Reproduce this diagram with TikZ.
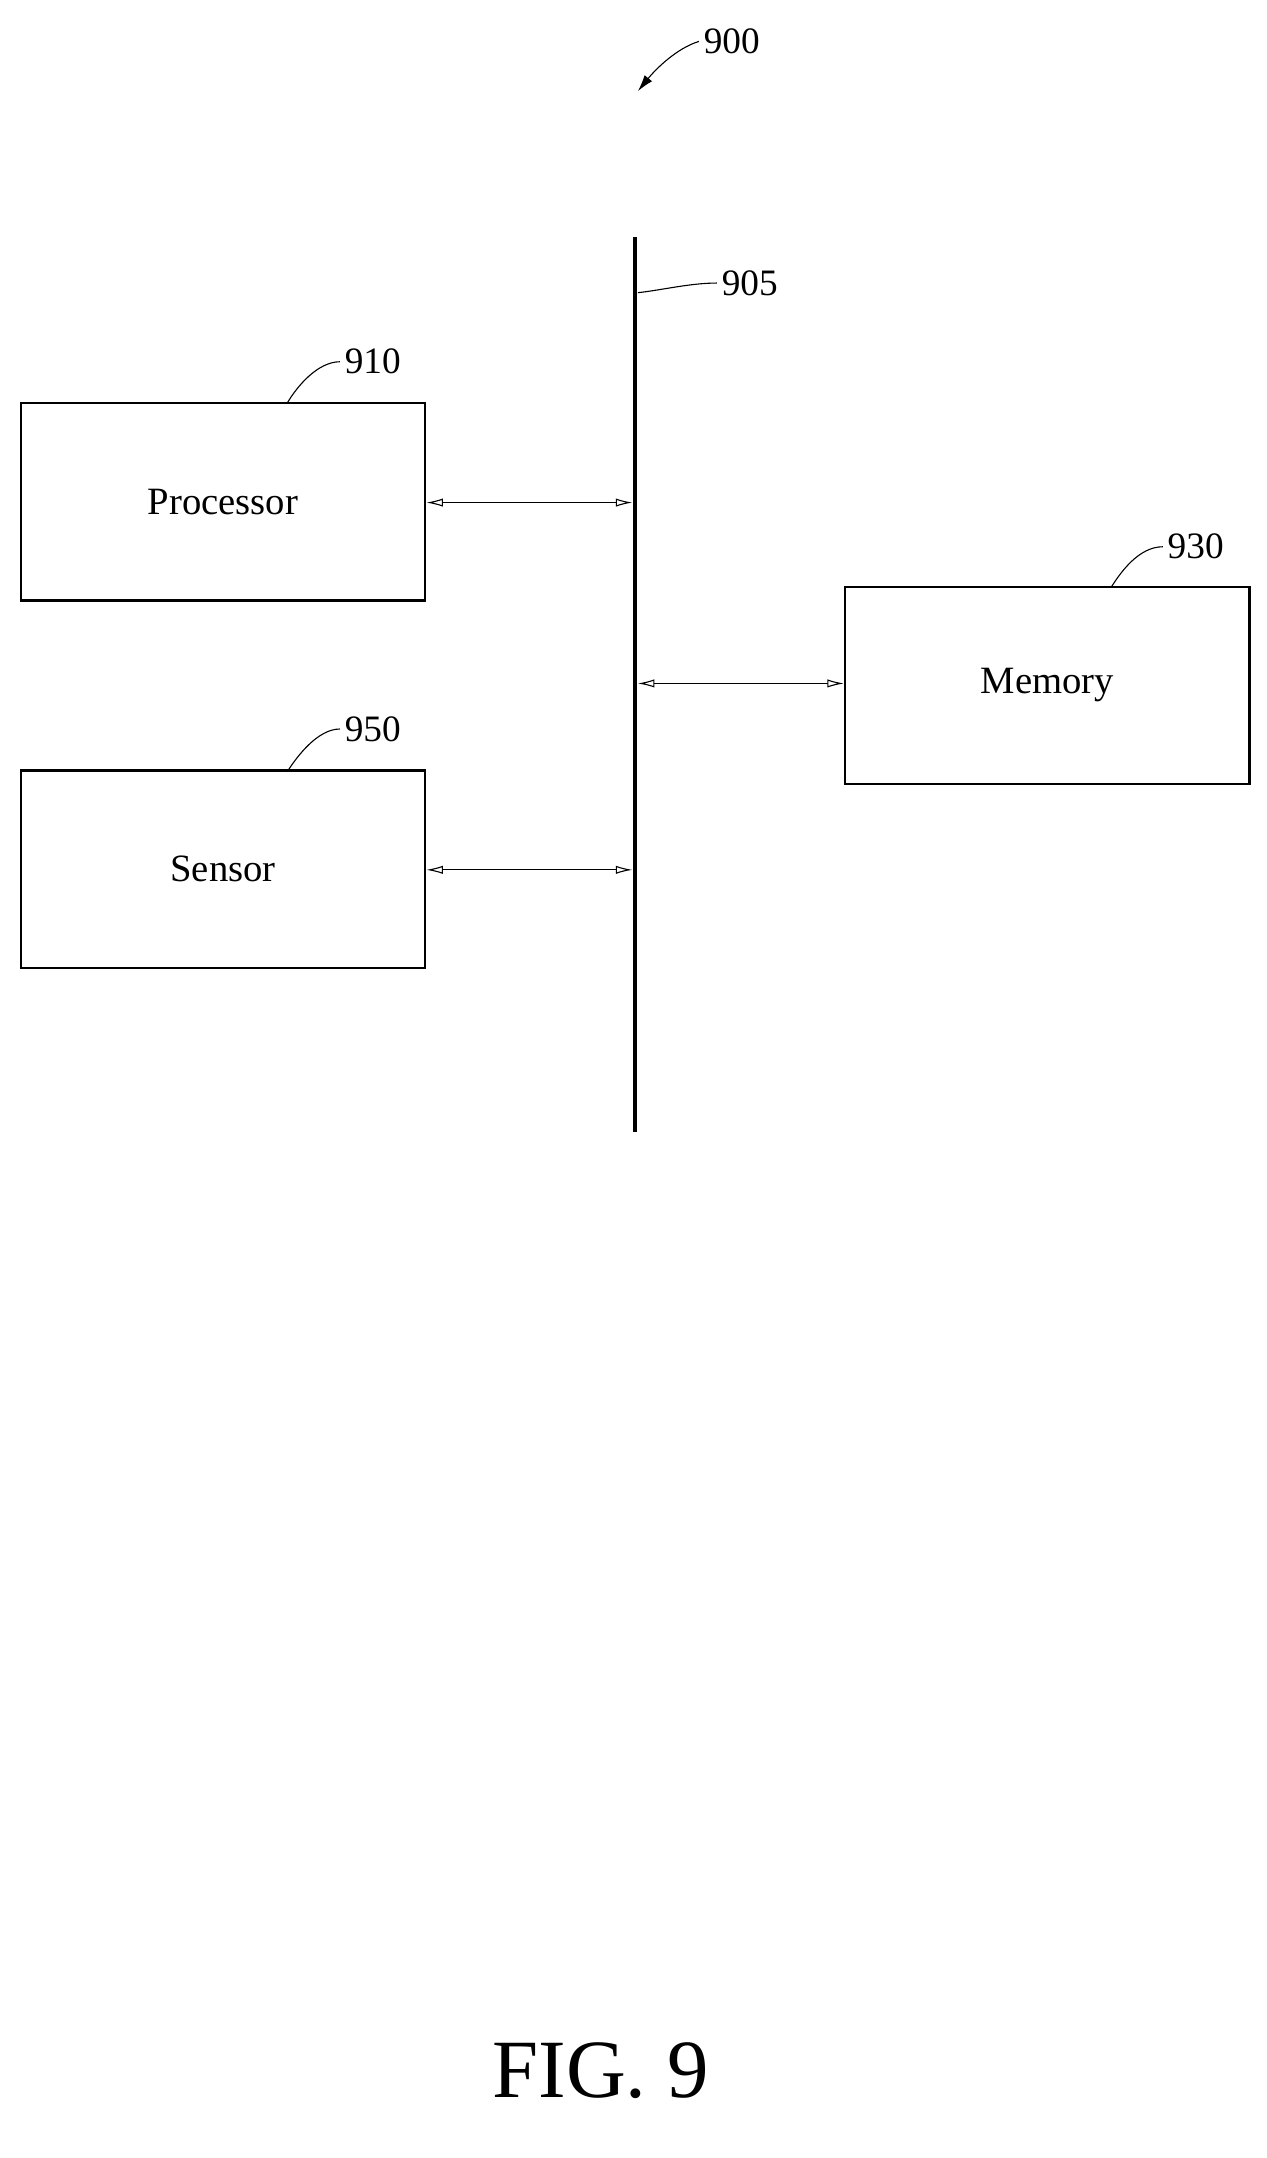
\documentclass[tikz,border=0pt]{standalone}
\usepackage{fontspec}
\setmainfont{Liberation Serif}
\usetikzlibrary{arrows.meta}
\begin{document}
\begin{tikzpicture}[x=1pt,y=-1pt,
  box/.style={draw,line width=1.6pt,minimum width=293pt,minimum height=143pt,font=\fontsize{28}{30}\selectfont},
  lbl/.style={font=\fontsize{27}{29}\selectfont},
  conn/.style={line width=0.8pt,{Latex[open,length=12pt,width=6pt]}-{Latex[open,length=12pt,width=6pt]}},
  lead/.style={line width=0.8pt}]
\useasboundingbox (0,0) rectangle (917,1563);
\node[box] (proc) at (161.5,363.5) {Processor};
\node[box] (sens) at (161.5,629.5) {Sensor};
\node[box,minimum height=143pt] (mem) at (758.5,496.5) {Memory};
\coordinate (bt) at (460,172);
\coordinate (bb) at (460,820);
\draw[line width=3pt] (bt) -- (bb);
\coordinate (bp) at (458,364);
\coordinate (bs) at (458,630);
\coordinate (bm) at (462,495);
\draw[conn] (proc.east|-bp) -- (bp);
\draw[conn] (sens.east|-bs) -- (bs);
\draw[conn] (bm) -- (mem.west|-bm);
\node[lbl] (l900) at (530,30) {900};
\coordinate (a900) at (462,66);
\draw[line width=0.8pt,-{Latex[length=12pt,width=7pt]}] (l900.west) .. controls (490,35) and (475,50) .. (a900);
\node[lbl] (l905) at (543,205) {905};
\draw[lead] (l905.west) .. controls (500,205) and (480,210) .. (462,212);
\node[lbl] (l910) at (270,262) {910};
\draw[lead] (l910.west) .. controls (230,262) and (215,280) .. (208,292);
\node[lbl] (l950) at (270,528) {950};
\draw[lead] (l950.west) .. controls (230,528) and (215,548) .. (208,559);
\node[lbl] (l930) at (866,396) {930};
\draw[lead] (l930.west) .. controls (825,396) and (812,414) .. (805,425);
\node[font=\fontsize{60}{62}\selectfont] (fig) at (435,1500) {FIG. 9};
\end{tikzpicture}
\end{document}
